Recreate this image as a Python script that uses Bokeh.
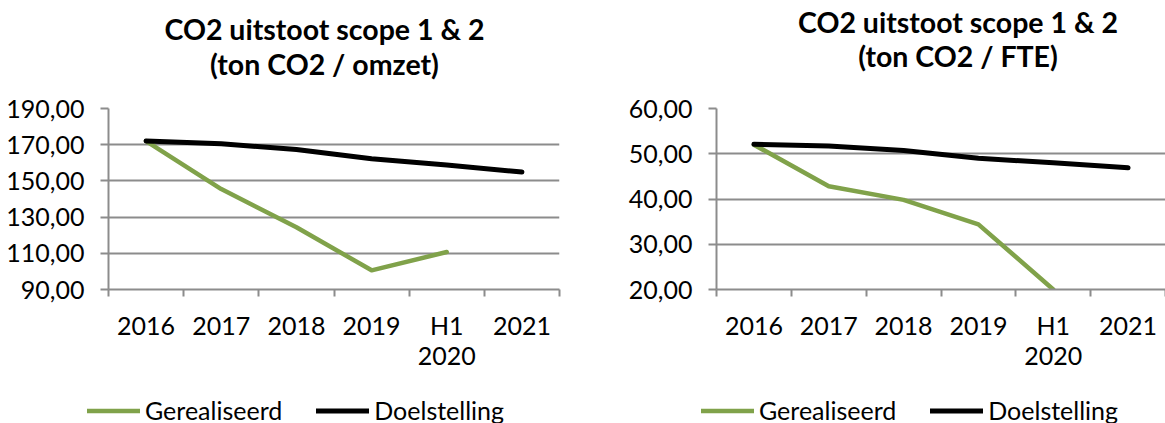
from bokeh.plotting import figure
from bokeh.models import Range1d, FixedTicker, Legend, LegendItem, Label
from bokeh.layouts import row, column
from bokeh.embed import file_html
from bokeh.resources import INLINE

# ---------------- data ----------------
categories = ["2016", "2017", "2018", "2019", "H1\n2020", "2021"]

omzet_gerealiseerd = [172.0, 145.5, 124.4, 100.6, 110.7]
omzet_doelstelling = [172.1, 170.5, 167.3, 162.2, 158.8, 154.9]
omzet_ticks = [90, 110, 130, 150, 170, 190]

fte_gerealiseerd = [52.0, 42.8, 39.8, 34.4, 20.0]
fte_doelstelling = [52.1, 51.7, 50.7, 49.0, 48.0, 46.9]
fte_ticks = [20, 30, 40, 50, 60]

series_names = ["Gerealiseerd", "Doelstelling"]
title_omzet = ["CO2 uitstoot scope 1 & 2", "(ton CO2 / omzet)"]
title_fte = ["CO2 uitstoot scope 1 & 2", "(ton CO2 / FTE)"]

# ---------------- style ----------------
FONT = "Lato"
GREEN = "#80A24A"
GRID = "#8C8C8C"
TXT = "#000000"
TITLE_H = 84
CHART_H = 316
LEGEND_H = 23
TICK_SIZE = "25px"
TITLE_SIZE = "28.5px"


def no_align(f):
    if "frame_align" in f.properties():
        f.frame_align = False
    return f


def bare(width, height, x_range, y_range):
    f = figure(width=width, height=height, output_backend="svg",
               toolbar_location=None, title=None, x_range=x_range, y_range=y_range,
               min_border=0, x_axis_location=None, y_axis_location=None)
    f.grid.visible = False
    f.outline_line_color = None
    f.background_fill_color = "white"
    f.border_fill_color = "white"
    return no_align(f)


def title_fig(lines, width, cx, baselines):
    t = bare(width, TITLE_H, Range1d(0, 1), Range1d(0, 1))
    for text, base in zip(lines, baselines):
        t.add_layout(Label(x=cx, y=TITLE_H - base, x_units="screen", y_units="screen",
                           text=text, text_align="center", text_baseline="alphabetic",
                           text_font=FONT, text_font_size=TITLE_SIZE,
                           text_font_style="bold", text_color=TXT))
    return t


def add_lines(p, xc, real, goal):
    r_real = p.line(xc[:len(real)], real, line_color=GREEN, line_width=4.5,
                    line_cap="round", line_join="round")
    r_goal = p.line(xc, goal, line_color="black", line_width=5,
                    line_cap="round", line_join="round")
    return r_real, r_goal


def chart_fig(yticks, real, goal, width, border_left, border_right):
    n = len(categories)
    xc = [i + 0.5 for i in range(n)]
    p = figure(width=width, height=CHART_H, output_backend="svg",
               toolbar_location=None, title=None,
               x_range=Range1d(0, n), y_range=Range1d(yticks[0], yticks[-1]),
               min_border_left=border_left, min_border_right=border_right,
               min_border_top=24, min_border_bottom=111)
    no_align(p)
    p.outline_line_color = None
    p.background_fill_color = "white"
    p.border_fill_color = "white"

    xa = p.xaxis[0]
    xa.ticker = FixedTicker(ticks=xc, minor_ticks=list(range(n + 1)))
    xa.major_label_overrides = {x: c for x, c in zip(xc, categories)}
    xa.major_label_text_font = FONT
    xa.major_label_text_font_size = TICK_SIZE
    xa.major_label_text_color = TXT
    xa.major_label_text_line_height = 1.0
    xa.major_label_standoff = 13
    xa.major_tick_line_color = None
    xa.major_tick_out = 7
    xa.major_tick_in = 0
    xa.minor_tick_out = 7
    xa.minor_tick_in = 0
    xa.minor_tick_line_color = GRID
    xa.minor_tick_line_width = 2
    xa.axis_line_color = GRID
    xa.axis_line_width = 2

    ya = p.yaxis[0]
    ya.ticker = FixedTicker(ticks=yticks)
    ya.major_label_overrides = {t: f"{t},00" for t in yticks}
    ya.major_label_text_font = FONT
    ya.major_label_text_font_size = TICK_SIZE
    ya.major_label_text_color = TXT
    ya.major_label_standoff = 16
    ya.major_tick_out = 8
    ya.major_tick_in = 0
    ya.minor_tick_line_color = None
    ya.axis_line_color = GRID
    ya.axis_line_width = 2
    ya.major_tick_line_color = GRID
    ya.major_tick_line_width = 2

    p.xgrid.visible = False
    p.ygrid.grid_line_color = GRID
    p.ygrid.grid_line_width = 2

    add_lines(p, xc, real, goal)
    return p


def legend_fig(real, goal, width, x0):
    n = len(categories)
    xc = [i + 0.5 for i in range(n)]
    # lines fall outside this strip's ranges; they only feed the legend glyphs
    lg = bare(width, LEGEND_H, Range1d(0, n), Range1d(0, 1))
    r_real, r_goal = add_lines(lg, xc, real, goal)
    leg = Legend(items=[LegendItem(label=series_names[0], renderers=[r_real]),
                        LegendItem(label=series_names[1], renderers=[r_goal])],
                 location=(x0, -2), orientation="horizontal",
                 glyph_width=53, glyph_height=29, label_height=29,
                 label_standoff=5, spacing=34, padding=0, margin=0,
                 border_line_color=None, background_fill_alpha=0,
                 label_text_font=FONT, label_text_font_size=TICK_SIZE,
                 label_text_color=TXT)
    lg.add_layout(leg, "center")
    return lg


left = column(
    title_fig(title_omzet, 588, 324, [28.5, 63.5]),
    chart_fig(omzet_ticks, omzet_gerealiseerd, omzet_doelstelling, 588, 108, 29),
    legend_fig(omzet_gerealiseerd, omzet_doelstelling, 588, 87),
)
right = column(
    title_fig(title_fte, 577, 369.5, [21, 55]),
    chart_fig(fte_ticks, fte_gerealiseerd, fte_doelstelling, 577, 128, 0),
    legend_fig(fte_gerealiseerd, fte_doelstelling, 577, 113),
)

layout = row(left, right)
open("out.html", "w").write(file_html(layout, INLINE))
